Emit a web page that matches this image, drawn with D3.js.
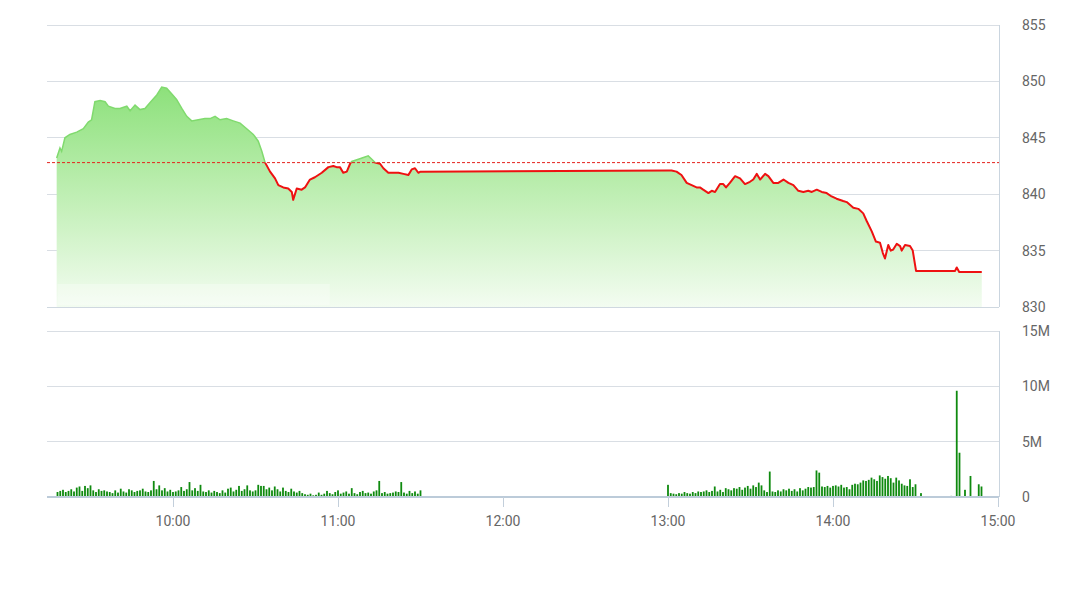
<!DOCTYPE html>
<html><head><meta charset="utf-8">
<script src="https://cdn.jsdelivr.net/npm/d3@7"></script>
<style>
body{margin:0;background:#fff;}
svg text{font-family:Roboto,"Liberation Sans",sans-serif;}
</style>
</head><body>
<svg id="chart" width="1070" height="601"></svg>
<script>
// ---------- DATA ----------
const priceTimes = ["09:17:42","09:18:54","09:19:30","09:20:42","09:22:30","09:25:00","09:27:24","09:29:12","09:30:24","09:31:36",
"09:33:30","09:35:18","09:36:30","09:38:54","09:40:42","09:43:12","09:44:24","09:46:12","09:48:00","09:49:48",
"09:51:36","09:54:06","09:55:54","09:57:42","09:59:30","10:01:18","10:03:12","10:05:00","10:06:48","10:09:12",
"10:11:36","10:13:30","10:15:18","10:17:06","10:19:30","10:21:54","10:24:24","10:26:48","10:29:12","10:31:00",
"10:32:18","10:33:30","10:35:18","10:37:06","10:38:18","10:40:06","10:41:54","10:43:12","10:43:42","10:45:00",
"10:46:48","10:48:00","10:49:48","10:51:36","10:54:06","10:56:30","10:58:18","10:59:30","11:00:42","11:01:54",
"11:03:12","11:04:24","11:05:00","11:07:24","11:09:48","11:11:00","11:12:18","11:13:30","11:15:18","11:16:30",
"11:18:18","11:20:06","11:22:00","11:23:48","11:25:36","11:26:48","11:28:00","11:29:12","11:30:00",
"13:00:00","13:01:18","13:03:06","13:04:54","13:06:48","13:08:36","13:10:24","13:11:36","13:12:48","13:14:42",
"13:15:54","13:17:06","13:18:54","13:20:06","13:21:06","13:22:30","13:24:24","13:26:12","13:28:00","13:29:48",
"13:31:00","13:32:18","13:33:30","13:35:18","13:36:30","13:38:18","13:40:06","13:42:00","13:43:48","13:45:36",
"13:47:24","13:49:12","13:51:00","13:52:18","13:54:06","13:55:54","13:57:42","13:59:30","14:01:18","14:03:42",
"14:05:00","14:07:24","14:09:12","14:11:00","14:12:18","14:14:06","14:15:36","14:17:06","14:18:06","14:18:54",
"14:20:06","14:21:00","14:21:54","14:23:12","14:24:24","14:25:00","14:26:12","14:28:00","14:29:00","14:30:12",
"14:44:24","14:45:00","14:45:54","14:54:06"];
const priceValues = [843.2,844.1,843.8,845.0,845.3,845.5,845.8,846.4,846.6,848.2,
848.3,848.2,847.8,847.6,847.6,847.8,847.4,847.9,847.5,847.6,
848.1,848.8,849.5,849.4,848.9,848.4,847.6,846.9,846.5,846.6,
846.7,846.7,846.9,846.6,846.7,846.5,846.3,845.8,845.3,844.7,
843.8,842.8,842.0,841.4,840.8,840.6,840.5,840.2,839.5,840.5,
840.4,840.6,841.3,841.5,841.9,842.4,842.5,842.4,842.4,841.9,
842.0,842.7,842.9,843.1,843.3,843.4,843.1,842.8,842.7,842.3,
841.9,841.9,841.9,841.8,841.7,842.2,842.3,841.9,842.0,
842.1,842.1,842.0,841.7,841.0,840.8,840.6,840.6,840.4,840.1,
840.3,840.2,840.9,840.9,840.6,841.0,841.6,841.4,840.9,841.1,
841.3,841.8,841.3,841.8,841.6,841.0,841.0,841.3,841.0,840.8,
840.3,840.2,840.3,840.2,840.4,840.2,840.1,839.8,839.6,839.4,
839.3,838.8,838.7,838.3,837.6,836.7,835.8,835.7,834.8,834.3,
835.5,835.0,835.1,835.6,835.4,835.0,835.5,835.4,835.0,833.2,
833.2,833.5,833.1,833.1];
const refPrice = 842.8;

const priceTicks = [830, 835, 840, 845, 850, 855];
const volTicks = [0, 5, 10, 15];            // millions
const volTickLabels = ["0", "5M", "10M", "15M"];
const timeTicks = ["10:00", "11:00", "12:00", "13:00", "14:00", "15:00"];

// volume in millions, one bar per minute
const morningVolStart = "09:18";
const morningVol = [0.45,0.55,0.65,0.45,0.55,0.7,0.5,0.85,0.95,0.55,
1.0,0.8,1.05,0.6,0.45,0.7,0.55,0.6,0.5,0.45,
0.35,0.6,0.4,0.75,0.5,0.4,0.7,0.6,0.45,0.55,
0.6,0.75,0.5,0.45,0.6,1.45,0.7,1.05,0.6,0.8,
0.5,0.65,0.45,0.5,0.6,0.9,0.55,0.7,1.35,0.6,
0.8,0.55,1.1,0.5,0.45,0.6,0.4,0.55,0.45,0.35,
0.6,0.4,0.75,0.85,0.5,0.65,1.0,0.55,0.7,1.05,
0.6,0.5,0.6,1.1,1.0,1.0,0.7,0.85,0.6,0.95,
0.7,0.5,0.85,0.55,0.45,0.75,0.5,0.4,0.55,0.35,
0.25,0.2,0.3,0.15,0.2,0.4,0.2,0.3,0.55,0.35,
0.25,0.45,0.6,0.3,0.4,0.5,0.3,0.8,0.35,0.25,
0.45,0.55,0.35,0.4,0.3,0.5,0.6,1.45,0.35,0.45,
0.3,0.35,0.4,0.5,0.45,1.35,0.4,0.3,0.55,0.35,
0.5,0.3,0.6];
const afternoonVolStart = "13:00";
const afternoonVol = [1.1,0.35,0.3,0.25,0.35,0.3,0.45,0.35,0.3,0.45,
0.35,0.5,0.45,0.5,0.6,0.45,0.55,0.95,0.5,0.65,
0.45,0.8,0.7,0.6,0.8,0.75,0.9,0.65,0.85,1.0,
0.75,1.05,0.9,1.3,1.05,0.6,0.45,2.3,0.5,0.45,
0.6,0.5,0.7,0.6,0.75,0.55,0.7,0.5,0.8,0.6,
0.75,0.9,0.85,0.9,2.4,2.2,0.95,0.9,1.0,0.85,
1.0,1.05,0.95,1.1,0.85,0.9,0.7,1.1,1.2,1.15,
1.3,1.5,1.45,1.55,1.75,1.6,1.45,1.95,1.8,1.65,
1.9,1.7,1.3,1.75,1.5,1.2,1.05,1.0,1.6,0.9,
1.15,0,0.35];
const lateVolTimes = ["14:43","14:45","14:46","14:48","14:50","14:53","14:54"];
const lateVol = [0.1, 9.6, 4.0, 0.65, 1.9, 1.15, 0.95];

// ---------- CHART ----------
const svg = d3.select("#chart");
const parseS = d3.timeParse("%H:%M:%S");
const parseM = d3.timeParse("%H:%M");

const left = 47, right = 999;
const pTop = 25, pBottom = 307;
const vTop = 331, vBottom = 497;

const x = d3.scaleTime()
  .domain([parseS("09:14:11"), parseS("15:00:22")])
  .range([left, right]);
const yP = d3.scaleLinear().domain([830, 855]).range([pBottom, pTop]);
const yV = d3.scaleLinear().domain([0, 15]).range([vBottom, vTop]);

const price = priceTimes.map((t, i) => ({t: parseS(t), v: priceValues[i]}));
const vols = [];
morningVol.forEach((v, i) => vols.push({t: d3.timeMinute.offset(parseM(morningVolStart), i), v}));
afternoonVol.forEach((v, i) => vols.push({t: d3.timeMinute.offset(parseM(afternoonVolStart), i), v}));
lateVolTimes.forEach((t, i) => vols.push({t: parseM(t), v: lateVol[i]}));

const defs = svg.append("defs");
const grad = defs.append("linearGradient").attr("id", "areaGrad")
  .attr("gradientUnits", "userSpaceOnUse")
  .attr("x1", 0).attr("x2", 0).attr("y1", yP(850)).attr("y2", pBottom);
grad.append("stop").attr("offset", "0%").attr("stop-color", "#8ae078");
grad.append("stop").attr("offset", "55%").attr("stop-color", "#c4f0b9");
grad.append("stop").attr("offset", "100%").attr("stop-color", "#f3fcf1");

const yRef = yP(refPrice);
defs.append("clipPath").attr("id", "clipAbove").append("rect")
  .attr("x", 0).attr("y", 0).attr("width", 1070).attr("height", yRef);
defs.append("clipPath").attr("id", "clipBelow").append("rect")
  .attr("x", 0).attr("y", yRef).attr("width", 1070).attr("height", 601 - yRef);

// price gridlines
const gridColor = "#d9dee4";
svg.append("g").selectAll("line").data(priceTicks).join("line")
  .attr("x1", left).attr("x2", right)
  .attr("y1", d => yP(d)).attr("y2", d => yP(d))
  .attr("stroke", d => d === 830 ? "#cfd8e0" : gridColor).attr("stroke-width", 1)
  .attr("shape-rendering", "crispEdges");

// area
const area = d3.area().x(d => x(d.t)).y0(pBottom).y1(d => yP(d.v));
svg.append("path").datum(price).attr("d", area).attr("fill", "url(#areaGrad)");

// faint white band
svg.append("rect").attr("x", x(parseS("09:18:00"))).attr("y", 284)
  .attr("width", x(parseS("10:57:00")) - x(parseS("09:18:00"))).attr("height", 21)
  .attr("fill", "#ffffff").attr("opacity", 0.3);

// reference dashed line
svg.append("line").attr("x1", left).attr("x2", right).attr("y1", yRef).attr("y2", yRef)
  .attr("stroke", "#e4211b").attr("stroke-width", 1).attr("stroke-dasharray", "3,2");

// price line
const line = d3.line().x(d => x(d.t)).y(d => yP(d.v));
svg.append("path").datum(price).attr("d", line).attr("fill", "none")
  .attr("stroke", "#80da6e").attr("stroke-width", 1.5).attr("clip-path", "url(#clipAbove)");
svg.append("path").datum(price).attr("d", line).attr("fill", "none")
  .attr("stroke", "#ee1111").attr("stroke-width", 2).attr("stroke-linejoin", "round")
  .attr("clip-path", "url(#clipBelow)");

// price right border
svg.append("line").attr("x1", right).attr("x2", right).attr("y1", pTop).attr("y2", pBottom)
  .attr("stroke", "#cad5df").attr("stroke-width", 1).attr("shape-rendering", "crispEdges");

// price labels
svg.append("g").selectAll("text").data(priceTicks).join("text")
  .attr("x", 1022).attr("y", d => yP(d)).attr("dy", "0.35em")
  .attr("font-size", 14).attr("fill", "#666").text(d => d);

// volume gridlines
svg.append("g").selectAll("line").data(volTicks.filter(d => d > 0)).join("line")
  .attr("x1", left).attr("x2", right)
  .attr("y1", d => yV(d)).attr("y2", d => yV(d))
  .attr("stroke", gridColor).attr("stroke-width", 1).attr("shape-rendering", "crispEdges");
svg.append("line").attr("x1", right).attr("x2", right).attr("y1", vTop).attr("y2", vBottom)
  .attr("stroke", "#cad5df").attr("stroke-width", 1).attr("shape-rendering", "crispEdges");

// volume bars
svg.append("g").selectAll("rect").data(vols.filter(d => d.v > 0)).join("rect")
  .attr("x", d => x(d.t) - 0.9).attr("width", 1.8)
  .attr("y", d => yV(d.v)).attr("height", d => vBottom - yV(d.v))
  .attr("fill", "#0f8a0f");

// x axis baseline and ticks
svg.append("line").attr("x1", left).attr("x2", right).attr("y1", vBottom).attr("y2", vBottom)
  .attr("stroke", "#bccbd9").attr("stroke-width", 2);
const xt = timeTicks.map(parseM);
svg.append("g").selectAll("line").data(xt).join("line")
  .attr("x1", d => Math.round(x(d)) + 0.5).attr("x2", d => Math.round(x(d)) + 0.5)
  .attr("y1", vBottom).attr("y2", vBottom + 10)
  .attr("stroke", "#c3cfdb").attr("stroke-width", 1);
svg.append("g").selectAll("text").data(xt).join("text")
  .attr("x", d => x(d)).attr("y", 521).attr("dy", "0.35em").attr("text-anchor", "middle")
  .attr("font-size", 14).attr("fill", "#666").text((d, i) => timeTicks[i]);

// volume labels
svg.append("g").selectAll("text").data(volTicks).join("text")
  .attr("x", 1022).attr("y", d => yV(d)).attr("dy", "0.35em")
  .attr("font-size", 14).attr("fill", "#666").text((d, i) => volTickLabels[i]);
</script>
</body></html>
